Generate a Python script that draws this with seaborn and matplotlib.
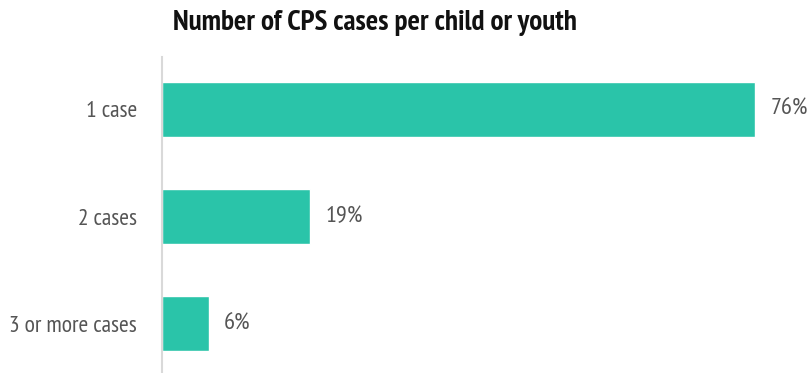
import matplotlib
matplotlib.use("Agg")
import matplotlib.pyplot as plt
import seaborn as sns
import pandas as pd

categories = ["1 case", "2 cases", "3 or more cases"]
shares = [76, 19, 6]
value_labels = ["76%", "19%", "6%"]

sns.set_style("white")
plt.rcParams["font.family"] = ["PT Sans Narrow", "DejaVu Sans"]

df = pd.DataFrame({"category": categories, "share": shares})

fig = plt.figure(figsize=(8.1, 3.73), dpi=100)
ax = fig.add_axes([162 / 810, 0, 648 / 810, 316 / 373])

sns.barplot(data=df, x="share", y="category", color="#2ac4a9", saturation=1,
            width=0.514, ax=ax)

ax.set_xlim(0, 83)
ax.set_ylim(2.46, -0.49)
ax.set_xlabel("")
ax.set_ylabel("")
ax.set_xticks([])
ax.tick_params(axis="y", length=0, pad=18, labelsize=17, labelcolor="#555555")

for side in ["top", "right", "bottom"]:
    ax.spines[side].set_visible(False)
ax.spines["left"].set_color("#d9d9d9")
ax.spines["left"].set_linewidth(1.5)

# percentage labels to the right of each bar
for i, (val, lab) in enumerate(zip(shares, value_labels)):
    ax.annotate(lab, (val, i), xytext=(11, 0), textcoords="offset points",
                va="center", ha="left", fontsize=17.5, color="#555555")

fig.text(375 / 810, 1 - 23 / 373, "Number of CPS cases per child or youth",
         ha="center", va="center", fontsize=21, fontweight="bold", color="#111111")

fig.savefig("out.png", dpi=100)
